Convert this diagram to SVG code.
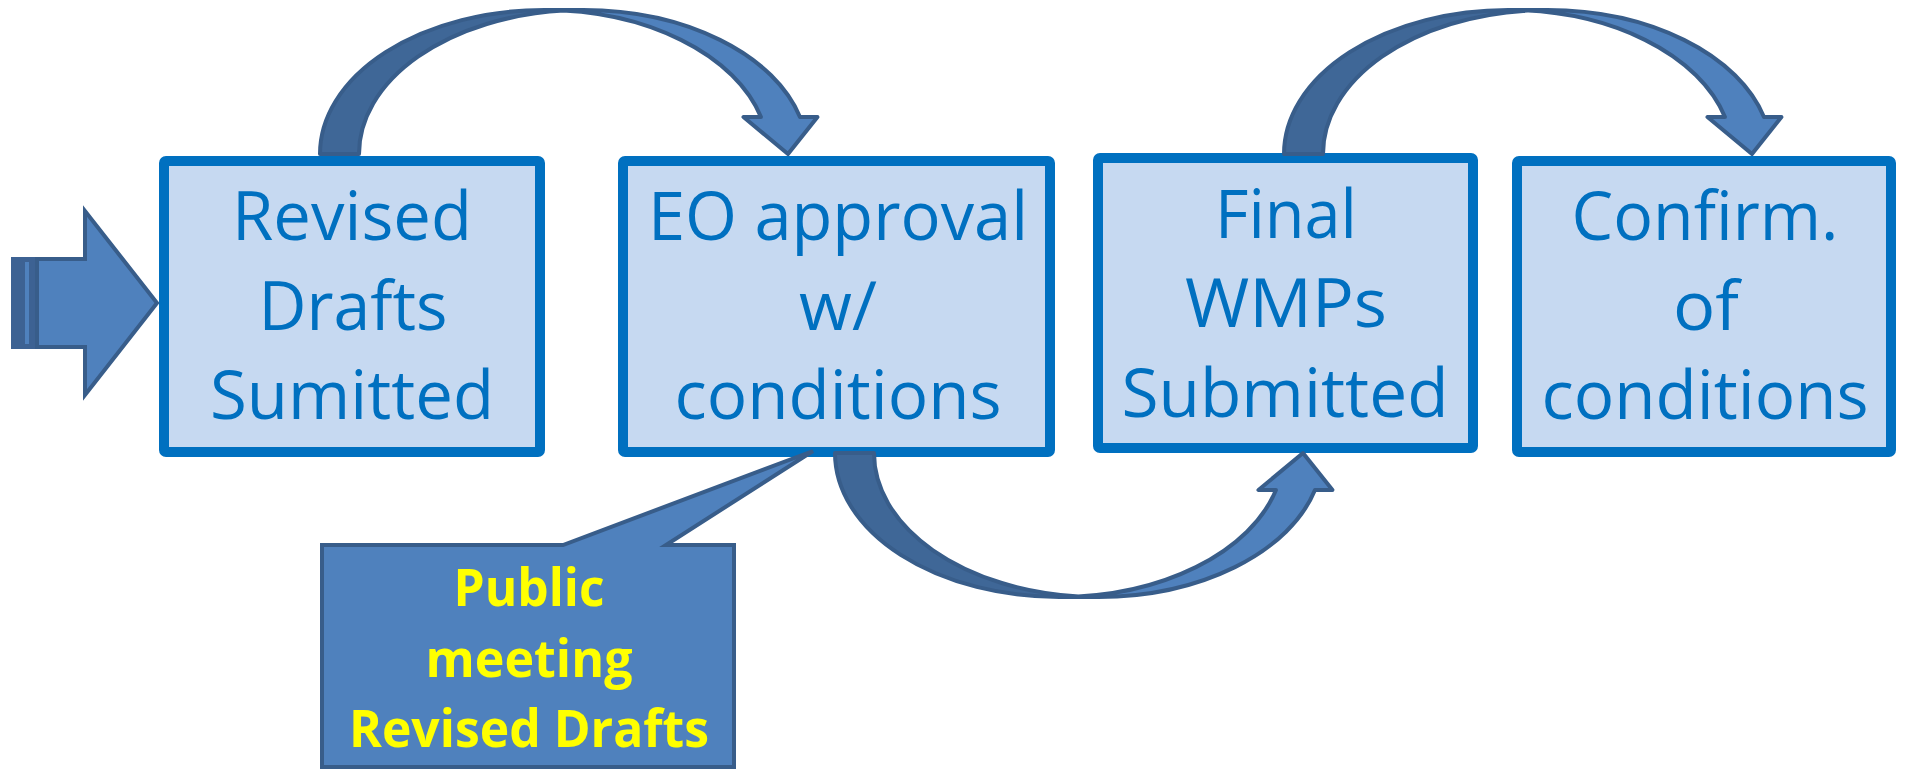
<svg xmlns="http://www.w3.org/2000/svg" xmlns:xlink="http://www.w3.org/1999/xlink" width="1907" height="771" viewBox="0 0 1907 771">
<style>
.box{fill:#C6D9F1;stroke:#0070C0;stroke-width:10;stroke-linejoin:round}
.lbl{font-family:"Open Sans","Liberation Sans",sans-serif;font-size:67px;fill:#0070C0;text-anchor:middle}
.call{fill:#4F81BD;stroke:#385D8A;stroke-width:4;stroke-linejoin:miter}
.clbl{font-family:"Open Sans","Liberation Sans",sans-serif;font-weight:700;font-size:52px;fill:#FFFF00;text-anchor:middle}
.aL{fill:#4F81BD}
.aD{fill:#3F6797}
.aS{fill:none;stroke:#385D8A;stroke-width:4;stroke-linejoin:round}
</style>
<defs>
<g id="curved">
<path class="aL" d="M468 144 L423.47 107 L440.97 107 A224.25 144 0 0 0 224.25 0 L263.25 0 A224.25 144 0 0 1 479.97 107 L497.47 107 Z"/>
<path class="aD" d="M243.75 0.55 A224.25 144 0 0 0 39 144 L0 144 A224.25 144 0 0 1 243.75 0.55 Z"/>
<path class="aS" d="M243.75 0.55 A224.25 144 0 0 0 39 144 L0 144 A224.25 144 0 0 1 224.25 0 L263.25 0 A224.25 144 0 0 1 479.97 107 L497.47 107 L468 144 L423.47 107 L440.97 107 A224.25 144 0 0 0 224.25 0"/>
</g>
</defs>

<g id="node-revised-drafts">
<rect class="box" x="164" y="161" width="376" height="291" rx="2"/>
<text class="lbl" x="352" y="240" textLength="240" lengthAdjust="spacingAndGlyphs">Revised</text>
<text class="lbl" x="353" y="330" textLength="189" lengthAdjust="spacingAndGlyphs">Drafts</text>
<text class="lbl" x="352" y="419" textLength="284" lengthAdjust="spacingAndGlyphs">Sumitted</text>
</g>

<g id="node-eo-approval">
<rect class="box" x="623" y="161" width="427" height="291" rx="2"/>
<text class="lbl" x="838" y="240" textLength="380" lengthAdjust="spacingAndGlyphs">EO approval</text>
<text class="lbl" x="838" y="330" textLength="78" lengthAdjust="spacingAndGlyphs">w/</text>
<text class="lbl" x="838" y="419" textLength="327" lengthAdjust="spacingAndGlyphs">conditions</text>
</g>

<g id="node-final-wmps">
<rect class="box" x="1098" y="158" width="375" height="290" rx="2"/>
<text class="lbl" x="1286" y="238" textLength="142" lengthAdjust="spacingAndGlyphs">Final</text>
<text class="lbl" x="1286" y="327" textLength="202" lengthAdjust="spacingAndGlyphs">WMPs</text>
<text class="lbl" x="1285" y="417" textLength="327" lengthAdjust="spacingAndGlyphs">Submitted</text>
</g>

<g id="node-confirm">
<rect class="box" x="1517" y="161" width="374" height="291" rx="2"/>
<text class="lbl" x="1705" y="240" textLength="267" lengthAdjust="spacingAndGlyphs">Confirm.</text>
<text class="lbl" x="1706" y="330" textLength="66" lengthAdjust="spacingAndGlyphs">of</text>
<text class="lbl" x="1705" y="419" textLength="327" lengthAdjust="spacingAndGlyphs">conditions</text>
</g>

<g id="connectors">
<g id="entry-arrow">
<rect x="11" y="257" width="26" height="92" fill="#3D6293"/>
<rect x="25" y="262" width="4" height="82" fill="#4F81BD"/>
<polygon class="call" points="37,259 85,259 85,211 157,303 85,395 85,347 37,347"/>
</g>
<use xlink:href="#curved" href="#curved" transform="translate(320,10)"/>
<use xlink:href="#curved" href="#curved" transform="translate(1284,10)"/>
<use xlink:href="#curved" href="#curved" transform="translate(835,597) scale(1,-1)"/>
</g>

<g id="node-public-meeting">
<path class="call" d="M322 545 H563 L813 451 L666 545 H734 V767 H322 Z"/>
<text class="clbl" x="529" y="606" textLength="151" lengthAdjust="spacingAndGlyphs">Public</text>
<text class="clbl" x="529" y="677" textLength="207" lengthAdjust="spacingAndGlyphs">meeting</text>
<text class="clbl" x="529" y="747" textLength="360" lengthAdjust="spacingAndGlyphs">Revised Drafts</text>
</g>
</svg>
